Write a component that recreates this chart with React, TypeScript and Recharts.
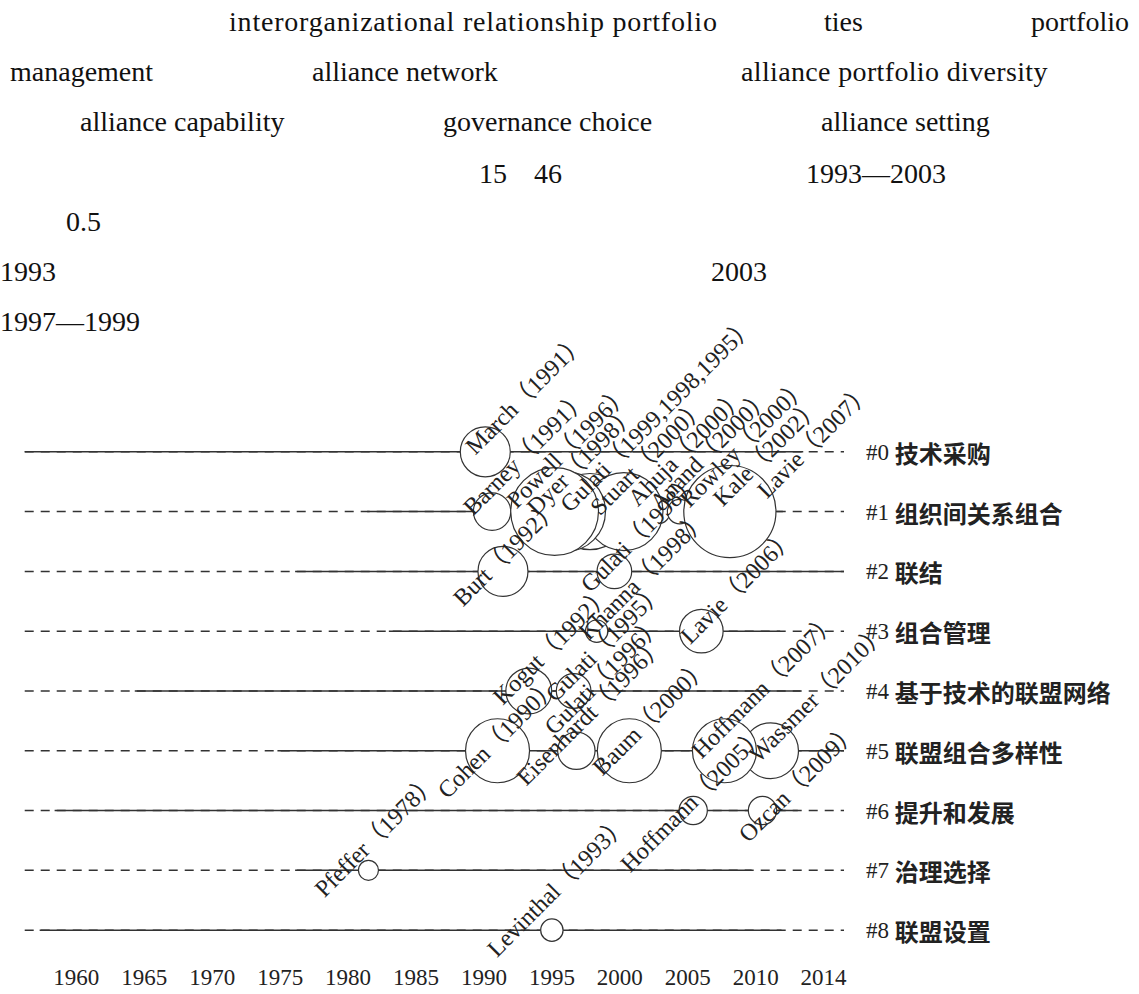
import { ScatterChart, Scatter, XAxis, YAxis, ZAxis } from "recharts";

const SERIF = "'Liberation Serif', 'Noto Sans CJK SC', serif";

// clusters, top to bottom
const CLUSTERS = ["技术采购", "组织间关系组合", "联结", "组合管理", "基于技术的联盟网络", "联盟组合多样性", "提升和发展", "治理选择", "联盟设置"];
// years where each cluster line is drawn solid (rest is dashed)
const ACTIVE_FROM = [1956.2, 1981.4, 1976.1, 1983.0, 1964.3, 1974.8, 1958.4, 1976.1, 1957.3];
const ACTIVE_TO = [2013.5, 2012.0, 2016.5, 2011.8, 2013.3, 2016.5, 2013.1, 2009.7, 2011.9];
const TIMELINE = [1956.2, 2016.5];

const X_TICKS = [1960, 1965, 1970, 1975, 1980, 1985, 1990, 1995, 2000, 2005, 2010, 2015];
const X_TICK_LABELS = ["1960", "1965", "1970", "1975", "1980", "1985", "1990", "1995", "2000", "2005", "2010", "2014"];

const NODE_LABELS = [
  "March（1991）", "Barney（1991）", "Powell（1996）", "Dyer（1998）", "Gulati（1999,1998,1995）", "Stuart（2000）",
  "Ahuja（2000）", "Anand（2000）", "Rowley（2000）", "Kale（2002）", "Lavie（2007）", "Burt（1992）", "Gulati（1998）",
  "Khanna（1998）", "Lavie（2006）", "Kogut（1992）", "Gulati（1995）", "Gulati（1996）", "Cohen（1990）", "Eisenhardt（1996）",
  "Baum（2000）", "Hoffmann（2007）", "Wassmer（2010）", "Hoffmann（2005）", "Ozcan（2009）", "Pfeffer（1978）", "Levinthal（1993）",
];
const NODE_CLUSTER = [0, 1, 1, 1, 1, 1, 1, 1, 1, 1, 1, 2, 2, 3, 3, 4, 4, 4, 5, 5, 5, 5, 5, 6, 6, 7, 8];
const NODE_YEAR = [
  1990.1, 1990.6, 1995.2, 1996.0, 1997.8, 2000.3, 2002.8, 2004.4, 2006.6, 2008.1, 2012.3, 1991.4, 1999.6,
  1998.3, 2006.0, 1993.3, 1996.6, 1999.0, 1991.0, 1996.8, 2000.7, 2007.7, 2011.1, 2005.4, 2010.5, 1981.5, 1995.0,
];
const NODE_WEIGHT = [25, 14, 77, 64, 58, 61, 6, 6, 2, 85, 0, 25, 12, 5, 19, 21, 12, 0, 41, 14, 41, 41, 31, 8, 8, 4, 5];

// where each label's baseline starts, relative to its node (px)
const LABEL_OFFSET: Record<string, [number, number]> = {
  "March（1991）": [-10, 4], "Barney（1991）": [-19, 5], "Powell（1996）": [-38, -2], "Dyer（1998）": [-29, 5],
  "Gulati（1999,1998,1995）": [-20, 2], "Stuart（2000）": [-24, 5], "Ahuja（2000）": [-20, -4], "Anand（2000）": [-20, 0],
  "Rowley（2000）": [-20, -3], "Kale（2002）": [-7, -4], "Lavie（2007）": [-20, -12], "Burt（1992）": [-40, 36],
  "Gulati（1998）": [-24, 22], "Khanna（1998）": [-8, 10], "Lavie（2006）": [-11, 14],
  "Kogut（1992）": [-26, 15], "Gulati（1995）": [-18, 12], "Gulati（1996）": [-52, 45], "Cohen（1990）": [-50, 49], "Eisenhardt（1996）": [-50, 36],
  "Baum（2000）": [-27, 26], "Hoffmann（2007）": [-23, 9], "Wassmer（2010）": [-12, 13], "Hoffmann（2005）": [-63, 63],
  "Ozcan（2009）": [-14, 33], "Pfeffer（1978）": [-44, 28], "Levinthal（1993）": [-55, 28],
};

const nodes = NODE_LABELS.map((label, i) => ({ label, x: NODE_YEAR[i], y: NODE_CLUSTER[i], z: NODE_WEIGHT[i] }));
// small circles first so the big ones sit on top
const circles = [...nodes].sort((a, b) => a.z - b.z);

const NodeShape = (props: any) => {
  const { cx, cy, width } = props;
  const r = width / 2;
  if (!(r > 0.5)) return <g />;
  return <circle cx={cx} cy={cy} r={r} fill="#fff" stroke="#333" strokeWidth={1.2} />;
};

const LabelShape = (props: any) => {
  const { cx, cy, payload } = props;
  const [dx, dy] = LABEL_OFFSET[payload.label] || [-20, 12];
  const px = cx + dx;
  const py = cy + dy;
  return (
    <text x={px} y={py} transform={`rotate(-45 ${px} ${py})`} fontSize={24} fontFamily={SERIF} fill="#222">
      {payload.label}
    </text>
  );
};

const XTick = ({ x, y, payload }: any) => (
  <text x={x} y={y + 19} textAnchor="middle" fontSize={23} fontFamily={SERIF} fill="#222">
    {X_TICK_LABELS[X_TICKS.indexOf(payload.value)]}
  </text>
);

const ClusterTick = ({ x, y, payload }: any) => (
  <text x={x + 22} y={y} dominantBaseline="central" fill="#222">
    <tspan fontFamily={SERIF} fontSize={23}>#{payload.value} </tspan>
    <tspan fontFamily="'Noto Sans CJK SC'" fontWeight={700} fontSize={24}>{CLUSTERS[payload.value]}</tspan>
  </text>
);

const Empty = () => <g />;

const t = { fontFamily: SERIF, fontSize: 28, fill: "#111" };

const App = () => {
  return (
    <div style={{ position: "absolute", left: 0, top: 0, width: 1139, height: 994, background: "#fff" }}>
      <ScatterChart width={1139} height={994} margin={{ top: 392, right: 0, bottom: 0, left: 22 }}>
        <XAxis type="number" dataKey="x" domain={[1956, 2016.5]} ticks={X_TICKS} interval={0} axisLine={false} tickLine={false} tickSize={0} tickMargin={0} height={28} tick={<XTick />} />
        <YAxis type="number" dataKey="y" domain={[-1, 8.6]} reversed orientation="right" ticks={[0, 1, 2, 3, 4, 5, 6, 7, 8]} interval={0} axisLine={false} tickLine={false} tickSize={0} tickMargin={0} width={295} tick={<ClusterTick />} />
        <ZAxis type="number" dataKey="z" domain={[0, 100]} range={[0, 7854]} />
        {CLUSTERS.map((_, i) => (
          <Scatter key={`d${i}`} data={[{ x: TIMELINE[0], y: i }, { x: TIMELINE[1], y: i }]} line={{ stroke: "#333", strokeWidth: 1.5, strokeDasharray: "9 7" }} shape={<Empty />} isAnimationActive={false} />
        ))}
        {CLUSTERS.map((_, i) => (
          <Scatter key={`s${i}`} data={[{ x: ACTIVE_FROM[i], y: i }, { x: ACTIVE_TO[i], y: i }]} line={{ stroke: "#333", strokeWidth: 1.5 }} shape={<Empty />} isAnimationActive={false} />
        ))}
        <Scatter data={circles} shape={<NodeShape />} isAnimationActive={false} />
        <Scatter data={nodes} shape={<LabelShape />} isAnimationActive={false} />
      </ScatterChart>
      <svg width={1139} height={340} style={{ position: "absolute", left: 0, top: 0 }}>
        <text {...t} x={229} y={31} letterSpacing={0.8}>interorganizational relationship portfolio</text>
        <text {...t} x={824} y={31}>ties</text>
        <text {...t} x={1031} y={31}>portfolio</text>
        <text {...t} x={10} y={81}>management</text>
        <text {...t} x={312} y={81}>alliance network</text>
        <text {...t} x={741} y={81} letterSpacing={0.35}>alliance portfolio diversity</text>
        <text {...t} x={80} y={131}>alliance capability</text>
        <text {...t} x={443} y={131}>governance choice</text>
        <text {...t} x={821} y={131}>alliance setting</text>
        <text {...t} x={479} y={183}>15</text>
        <text {...t} x={534} y={183}>46</text>
        <text {...t} x={806} y={183}>1993—2003</text>
        <text {...t} x={66} y={231}>0.5</text>
        <text {...t} x={0} y={281}>1993</text>
        <text {...t} x={711} y={281}>2003</text>
        <text {...t} x={0} y={331}>1997—1999</text>
      </svg>
    </div>
  );
};

export default App;
